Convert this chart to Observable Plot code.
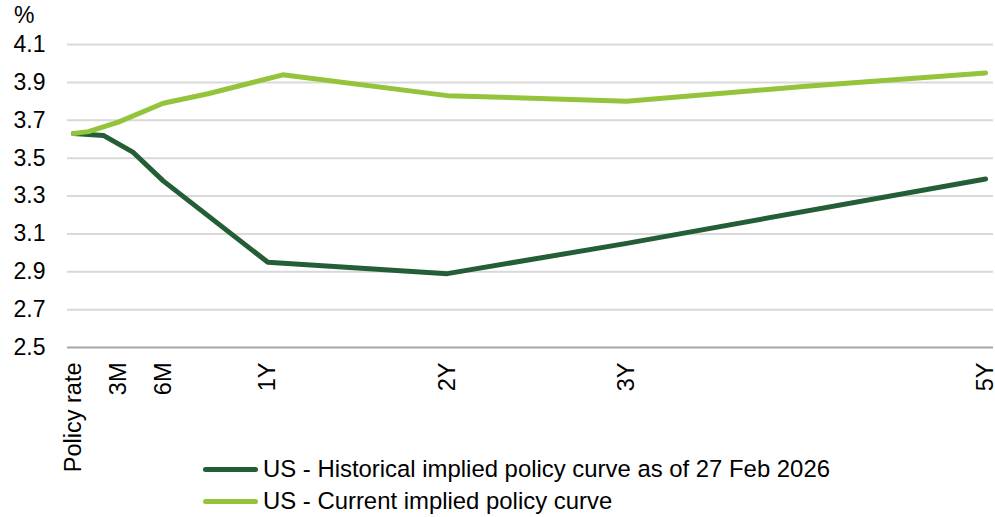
<!DOCTYPE html>
<html>
<head>
<meta charset="utf-8">
<script src="https://cdn.jsdelivr.net/npm/d3@7"></script>
<script src="https://cdn.jsdelivr.net/npm/@observablehq/plot@0.6"></script>
<style>
  html, body { margin: 0; padding: 0; background: #fff; }
  body { width: 995px; height: 517px; position: relative; overflow: hidden; font-family: "Liberation Sans", Arial, sans-serif; }
  #chart { position: absolute; left: 0; top: 0; }
  .unit { position: absolute; left: 14px; top: 2px; font-size: 23px; color: #000; }
  .legend { position: absolute; left: 203px; top: 453px; font-size: 23.9px; color: #000; }
  .legend .row { display: flex; align-items: center; height: 32px; white-space: nowrap; }
  .legend .sw { width: 55px; height: 5px; border-radius: 3px; margin-right: 5px; }
</style>
</head>
<body>
<div id="chart"></div>
<div class="unit">%</div>
<div class="legend" id="legend"></div>
<script>
// Tenor axis: position index along the curve and its labels
const tickPos = [0, 3, 6, 13, 25, 37, 61];
const tickLabels = ["Policy rate", "3M", "6M", "1Y", "2Y", "3Y", "5Y"];
const yTicks = [2.5, 2.7, 2.9, 3.1, 3.3, 3.5, 3.7, 3.9, 4.1];

// Series
const seriesNames = ["US - Historical implied policy curve as of 27 Feb 2026", "US - Current implied policy curve"];
const seriesColors = ["#245E36", "#93C43B"];
const histX = [0, 2, 4, 6, 13, 25, 37, 61];
const histY = [3.63, 3.62, 3.53, 3.38, 2.95, 2.89, 3.05, 3.39];
const curX = [0, 1, 3, 6, 9, 14, 25, 37, 49, 61];
const curY = [3.63, 3.64, 3.69, 3.79, 3.84, 3.94, 3.83, 3.80, 3.88, 3.95];

const hist = histX.map((x, i) => ({x, y: histY[i]}));
const cur = curX.map((x, i) => ({x, y: curY[i]}));
const labelOf = new Map(tickPos.map((p, i) => [p, tickLabels[i]]));

const plot = Plot.plot({
  width: 995,
  height: 517,
  marginLeft: 67,
  marginRight: 2,
  marginTop: 44,
  marginBottom: 170,
  style: {fontFamily: "'Liberation Sans', Arial, sans-serif", fontSize: "23px", color: "#000", background: "transparent"},
  x: {domain: [-0.4, 61.53], label: null},
  y: {domain: [2.5, 4.1], label: null},
  marks: [
    Plot.gridY(yTicks.filter(d => d > 2.5), {stroke: "#d9d9d9", strokeOpacity: 1, strokeWidth: 2}),
    Plot.ruleY([2.5], {stroke: "#a6a6a6", strokeWidth: 2}),
    Plot.axisX({ticks: tickPos, tickFormat: d => labelOf.get(d), tickRotate: -90, tickSize: 0, tickPadding: 15, fontSize: 23.5}),
    Plot.axisY({ticks: yTicks, tickFormat: d3.format(".1f"), tickSize: 0, tickPadding: 22, fontSize: 23}),
    Plot.line(hist, {x: "x", y: "y", stroke: seriesColors[0], strokeWidth: 5, strokeLinecap: "round", strokeLinejoin: "round"}),
    Plot.line(cur, {x: "x", y: "y", stroke: seriesColors[1], strokeWidth: 5, strokeLinecap: "round", strokeLinejoin: "round"})
  ]
});
document.getElementById("chart").appendChild(plot);

const legend = document.getElementById("legend");
seriesNames.forEach((name, i) => {
  const row = document.createElement("div");
  row.className = "row";
  const sw = document.createElement("span");
  sw.className = "sw";
  sw.style.background = seriesColors[i];
  const t = document.createElement("span");
  t.textContent = name;
  row.appendChild(sw);
  row.appendChild(t);
  legend.appendChild(row);
});
</script>
</body>
</html>
